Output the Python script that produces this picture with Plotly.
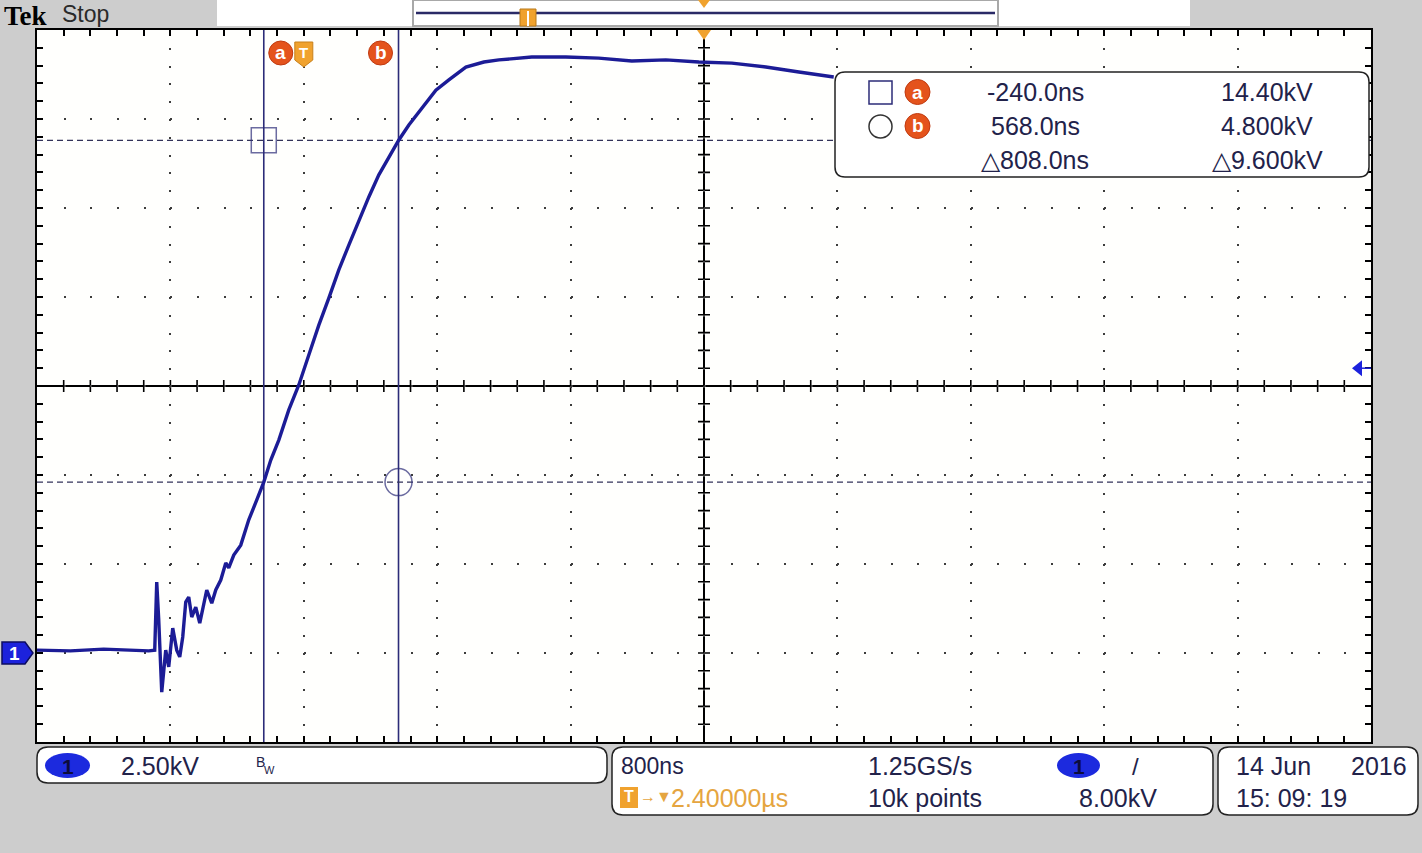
import plotly.graph_objects as go

time_us = [-1.600, -1.400, -1.200, -1.000, -0.930, -0.894, -0.882, -0.870, -0.852,
           -0.828, -0.810, -0.786, -0.762, -0.744, -0.726, -0.708, -0.690, -0.672,
           -0.648, -0.624, -0.600, -0.582, -0.552, -0.528, -0.498, -0.468, -0.450,
           -0.420, -0.378, -0.330, -0.282, -0.240, -0.198, -0.150, -0.090, -0.030,
           0.030, 0.090, 0.150, 0.210, 0.270, 0.330, 0.390, 0.450, 0.510, 0.570,
           0.630, 0.690, 0.792, 0.870, 0.972, 1.080, 1.170, 1.367, 1.571, 1.769,
           1.967, 2.171, 2.369, 2.567, 2.771, 2.969, 3.178]
volt_kv = [0.08, 0.06, 0.11, 0.08, 0.06, 0.08, 1.99, 0.93, -1.10,
           0.08, -0.39, 0.70, 0.08, -0.11, 0.45, 1.43, 1.57, 1.01,
           1.29, 0.84, 1.40, 1.77, 1.40, 1.77, 2.05, 2.53, 2.39,
           2.75, 3.03, 3.74, 4.30, 4.80, 5.42, 5.98, 6.83, 7.53,
           8.37, 9.21, 9.97, 10.76, 11.46, 12.16, 12.81, 13.43, 13.93, 14.41,
           14.83, 15.20, 15.81, 16.10, 16.46, 16.60, 16.66, 16.74, 16.74, 16.71,
           16.63, 16.66, 16.60, 16.57, 16.46, 16.32, 16.18]

cursor_names = ["a", "b"]
cursor_time_us = [-0.240, 0.568]
cursor_volt_kv = [14.40, 4.800]
cursor_symbols = ["square-open", "circle-open"]
meas_time_text = ["-240.0ns", "568.0ns", "△808.0ns"]
meas_volt_text = ["14.40kV", "4.800kV", "△9.600kV"]

trigger_time_us = 0.0
trigger_level_kv = 8.00
time_per_div_us = 0.8
volt_per_div_kv = 2.5
h_position_us = 2.4
ground_div = -3

ch_scale_text = "2.50kV"
timebase_text = "800ns"
sample_rate_text = "1.25GS/s"
record_text = "10k points"
trig_level_text = "8.00kV"
hpos_text = "2.40000µs"
date_text = "14 Jun"
year_text = "2016"
clock_text = "15: 09: 19"

# ---------------- geometry ----------------
X0 = h_position_us - 5 * time_per_div_us
X1 = h_position_us + 5 * time_per_div_us
YC = -ground_div * volt_per_div_kv
Y0 = YC - 4 * volt_per_div_kv
Y1 = YC + 4 * volt_per_div_kv

W, H = 1422, 853
L, T, R, B = 37, 30, 51, 111
PW = W - L - R
PH = H - T - B


def fx(p):
    return round((p - L) / PW, 6)


def fy(p):
    return round((H - B - p) / PH, 6)


def dx(t):
    return L + (t - X0) / (X1 - X0) * PW


def dy(v):
    return T + (Y1 - v) / (Y1 - Y0) * PH


def poly(points):
    return "M" + " L".join(f"{fx(a)},{fy(b)}" for a, b in points) + " Z"


def rrect(x0, y0, x1, y1, r):
    return (f"M{fx(x0 + r)},{fy(y0)} L{fx(x1 - r)},{fy(y0)} Q{fx(x1)},{fy(y0)} {fx(x1)},{fy(y0 + r)} "
            f"L{fx(x1)},{fy(y1 - r)} Q{fx(x1)},{fy(y1)} {fx(x1 - r)},{fy(y1)} "
            f"L{fx(x0 + r)},{fy(y1)} Q{fx(x0)},{fy(y1)} {fx(x0)},{fy(y1 - r)} "
            f"L{fx(x0)},{fy(y0 + r)} Q{fx(x0)},{fy(y0)} {fx(x0 + r)},{fy(y0)} Z")


FONT = "Liberation Sans, Arial, sans-serif"
NAVY = "#2c2c78"
ORANGE_RED = "#e4531c"
ORANGE = "#f0a22e"
TXT = "#22224a"

shapes = []
annotations = []


def txt(s, x, y, size=25, color=TXT, anchor="left", family=FONT):
    annotations.append(dict(text=s, x=fx(x), y=fy(y), xref="paper", yref="paper",
                            xanchor=anchor, yanchor="middle", showarrow=False,
                            font=dict(size=size, color=color, family=family)))


def badge(s, x, y, size=19, color="white"):
    annotations.append(dict(text=f"<b>{s}</b>", x=fx(x), y=fy(y), xref="paper", yref="paper",
                            xanchor="center", yanchor="middle", showarrow=False,
                            font=dict(size=size, color=color, family=FONT)))


# ---------------- below-trace graticule decorations ----------------
cx, cy = dx(h_position_us), dy(YC)
shapes.append(dict(type="line", xref="x", yref="paper", x0=h_position_us, x1=h_position_us,
                   y0=0, y1=1, line=dict(color="black", width=2), layer="below"))
shapes.append(dict(type="line", xref="paper", yref="y", x0=0, x1=1, y0=YC, y1=YC,
                   line=dict(color="black", width=2), layer="below"))
tick_path = ""
for k in range(1, 50):
    p = dx(X0 + k * time_per_div_us / 5)
    tick_path += f"M{fx(p)},{fy(cy - 6)} L{fx(p)},{fy(cy + 6)} "
for k in range(1, 40):
    p = dy(Y0 + k * volt_per_div_kv / 5)
    tick_path += f"M{fx(cx - 6)},{fy(p)} L{fx(cx + 6)},{fy(p)} "
shapes.append(dict(type="path", xref="paper", yref="paper", path=tick_path,
                   line=dict(color="black", width=1.6), layer="below"))

# cursors
for t in cursor_time_us:
    shapes.append(dict(type="line", xref="x", yref="paper", x0=t, x1=t, y0=0, y1=1,
                       line=dict(color=NAVY, width=1.6), layer="below"))
for v in cursor_volt_kv:
    shapes.append(dict(type="line", xref="paper", yref="y", x0=0, x1=1, y0=v, y1=v,
                       line=dict(color="#33335a", width=1.4, dash="6px,4px"), layer="below"))

# ---------------- top header ----------------
shapes.append(dict(type="rect", xref="paper", yref="paper", x0=fx(217), x1=fx(1190), y0=fy(0), y1=fy(26),
                   fillcolor="white", line=dict(width=0), layer="above"))
shapes.append(dict(type="rect", xref="paper", yref="paper", x0=fx(413), x1=fx(998), y0=fy(0), y1=fy(26),
                   fillcolor="rgba(0,0,0,0)", line=dict(color="#a8a8a8", width=2), layer="above"))
shapes.append(dict(type="line", xref="paper", yref="paper", x0=fx(416), x1=fx(995), y0=fy(13), y1=fy(13),
                   line=dict(color="#2a2a66", width=2.5), layer="above"))
shapes.append(dict(type="path", xref="paper", yref="paper",
                   path=poly([(520, 9), (536, 9), (536, 26), (520, 26)]),
                   fillcolor=ORANGE, line=dict(color="#b87818", width=1), layer="above"))
shapes.append(dict(type="line", xref="paper", yref="paper", x0=fx(528), x1=fx(528), y0=fy(11), y1=fy(26),
                   line=dict(color="white", width=2), layer="above"))
shapes.append(dict(type="path", xref="paper", yref="paper",
                   path=poly([(cx - 6, 0), (cx + 6, 0), (cx, 8)]),
                   fillcolor=ORANGE, line=dict(width=0), layer="above"))
txt("<b>Tek</b>", 2, 16, size=27, color="black", family="Liberation Serif, Times New Roman, serif")
txt("Stop", 60, 14, size=23, color="#2a2a2a")

# top-of-graticule markers
shapes.append(dict(type="path", xref="paper", yref="paper",
                   path=poly([(cx - 7, 30), (cx + 7, 30), (cx, 40)]),
                   fillcolor=ORANGE, line=dict(width=0), layer="above"))
tx = dx(trigger_time_us)
shapes.append(dict(type="path", xref="paper", yref="paper",
                   path=poly([(tx - 9, 42), (tx + 9, 42), (tx + 9, 60), (tx, 67), (tx - 9, 60)]),
                   fillcolor=ORANGE, line=dict(color="#c8801a", width=1), layer="above"))
badge("T", tx, 52, size=15)
label_offsets = [17, -18]
for name, t, off in zip(cursor_names, cursor_time_us, label_offsets):
    lx = dx(t) + off
    shapes.append(dict(type="circle", xref="paper", yref="paper", x0=fx(lx - 12), x1=fx(lx + 12),
                       y0=fy(41), y1=fy(65), fillcolor=ORANGE_RED, line=dict(color="#c03a10", width=1),
                       layer="above"))
    badge(name, lx, 52)

# channel 1 ground marker (left) and trigger level marker (right)
gy = dy(0)
shapes.append(dict(type="path", xref="paper", yref="paper",
                   path=poly([(2, gy - 11), (25, gy - 11), (33, gy), (25, gy + 11), (2, gy + 11)]),
                   fillcolor="#1c22dc", line=dict(color="#0c0c60", width=1.5), layer="above"))
badge("1", 14, gy, size=19)
ty = dy(trigger_level_kv)
shapes.append(dict(type="path", xref="paper", yref="paper",
                   path=poly([(1352, ty), (1362, ty - 8), (1362, ty + 8)]),
                   fillcolor="#1c22dc", line=dict(width=0), layer="above"))
shapes.append(dict(type="line", xref="paper", yref="paper", x0=fx(1362), x1=fx(1371), y0=fy(ty), y1=fy(ty),
                   line=dict(color="#1c22dc", width=1.5), layer="above"))

# ---------------- measurement readout box ----------------
shapes.append(dict(type="path", xref="paper", yref="paper", path=rrect(835, 72, 1369, 177, 10),
                   fillcolor="white", line=dict(color="#222222", width=1.5), layer="above"))
row_y = [92, 126, 160]
shapes.append(dict(type="rect", xref="paper", yref="paper", x0=fx(869), x1=fx(892), y0=fy(81), y1=fy(104),
                   fillcolor="rgba(0,0,0,0)", line=dict(color=NAVY, width=1.5), layer="above"))
shapes.append(dict(type="circle", xref="paper", yref="paper", x0=fx(869), x1=fx(892), y0=fy(115), y1=fy(138),
                   fillcolor="rgba(0,0,0,0)", line=dict(color="#333333", width=1.5), layer="above"))
for name, yy in zip(cursor_names, row_y[:2]):
    shapes.append(dict(type="circle", xref="paper", yref="paper", x0=fx(905), x1=fx(930),
                       y0=fy(yy - 12.5), y1=fy(yy + 12.5), fillcolor=ORANGE_RED,
                       line=dict(color="#c03a10", width=1), layer="above"))
    badge(name, 917.5, yy)
for s_t, s_v, yy in zip(meas_time_text, meas_volt_text, row_y):
    txt(s_t, 1035, yy, anchor="center")
    txt(s_v, 1267, yy, anchor="center")

# ---------------- bottom status boxes ----------------
shapes.append(dict(type="path", xref="paper", yref="paper", path=rrect(37, 747, 607, 783, 11),
                   fillcolor="white", line=dict(color="#222222", width=1.5), layer="above"))
shapes.append(dict(type="path", xref="paper", yref="paper", path=rrect(612, 747, 1213, 815, 11),
                   fillcolor="white", line=dict(color="#222222", width=1.5), layer="above"))
shapes.append(dict(type="path", xref="paper", yref="paper", path=rrect(1218, 747, 1418, 815, 11),
                   fillcolor="white", line=dict(color="#222222", width=1.5), layer="above"))
for x0, x1 in [(45, 90), (1057, 1100)]:
    shapes.append(dict(type="circle", xref="paper", yref="paper", x0=fx(x0), x1=fx(x1), y0=fy(753), y1=fy(778),
                       fillcolor="#1c2ade", line=dict(width=0), layer="above"))
    badge("1", (x0 + x1) / 2, 766, size=21, color="#0c0c3c")
txt(ch_scale_text, 119, 766)
txt("B", 254, 762, size=14)
txt("W", 262, 770, size=11)
txt(timebase_text, 619, 766, size=23)
txt(sample_rate_text, 866, 766)
txt("/", 1136, 766, size=24, anchor="center")
txt(record_text, 866, 798)
txt(trig_level_text, 1077, 798)
shapes.append(dict(type="rect", xref="paper", yref="paper", x0=fx(620), x1=fx(638), y0=fy(787), y1=fy(808),
                   fillcolor=ORANGE, line=dict(width=0), layer="above"))
badge("T", 629, 797, size=16)
txt("→▼", 638, 797, size=16, color="#e5a540")
txt(hpos_text, 669, 798, color="#e5a540")
txt(date_text, 1234, 766)
txt(year_text, 1409, 766, anchor="right")
txt(clock_text, 1234, 798)

# ---------------- figure ----------------
fig = go.Figure()
fig.add_trace(go.Scatter(x=time_us, y=volt_kv, mode="lines",
                         line=dict(color="#1c1c96", width=3.4), hoverinfo="skip", showlegend=False))
fig.add_trace(go.Scatter(x=cursor_time_us, y=cursor_volt_kv, mode="markers",
                         marker=dict(symbol=cursor_symbols, size=[25, 27], color=NAVY,
                                     line=dict(color=NAVY, width=1.5)),
                         hoverinfo="skip", showlegend=False))

axis_common = dict(showgrid=True, gridcolor="#3c3c3c", gridwidth=1.8, zeroline=False,
                   showline=True, linecolor="black", linewidth=2, mirror="allticks",
                   ticks="inside", ticklen=6, tickcolor="black", tickwidth=1.5,
                   showticklabels=False, fixedrange=True)

fig.update_layout(
    width=W, height=H,
    margin=dict(l=L, r=R, t=T, b=B, autoexpand=False),
    paper_bgcolor="#cdcdcd", plot_bgcolor="#fffffd",
    showlegend=False,
    xaxis=dict(range=[X0, X1], dtick=time_per_div_us, tick0=h_position_us,
               griddash="2px,15.8px",
               minor=dict(dtick=time_per_div_us / 5, tick0=h_position_us, ticks="inside",
                          ticklen=6, tickcolor="black", tickwidth=1.5, showgrid=False),
               **axis_common),
    yaxis=dict(range=[Y0, Y1], dtick=volt_per_div_kv, tick0=YC,
               griddash="2px,24.68px",
               minor=dict(dtick=volt_per_div_kv / 5, tick0=YC, ticks="inside",
                          ticklen=6, tickcolor="black", tickwidth=1.5, showgrid=False),
               **axis_common),
    shapes=shapes,
    annotations=annotations,
)

fig.write_html("out.html", config={"displayModeBar": False},
               post_script="document.body.style.margin='0px';document.body.style.overflow='hidden';")
